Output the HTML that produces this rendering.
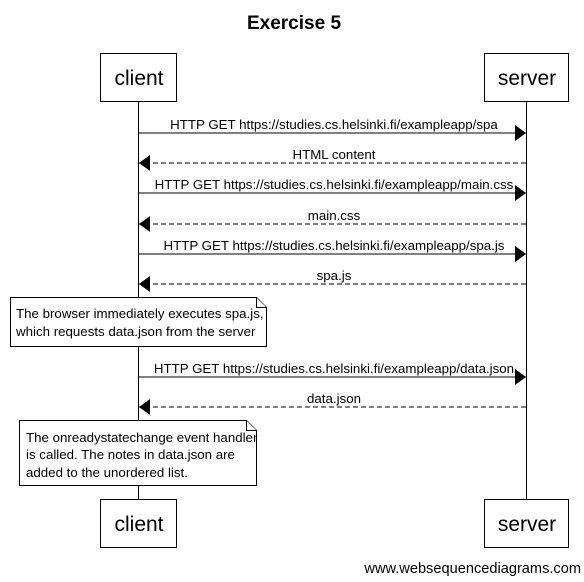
<!DOCTYPE html>
<html><head><style>
body{margin:0;background:#fff;}
svg{display:block;font-family:"Liberation Sans",sans-serif;}
</style></head><body>
<svg width="584" height="582" viewBox="0 0 584 582">
<defs>
<marker id="a" markerWidth="11" markerHeight="16" refX="11" refY="8" orient="auto" markerUnits="userSpaceOnUse"><path d="M0,0 L11,8 L0,16 Z" fill="#000"/></marker>
</defs>
<text x="294" y="29" font-size="19" font-weight="bold" text-anchor="middle">Exercise 5</text>
<g stroke="#000" stroke-width="1" fill="#fff">
<line x1="138.5" y1="102" x2="138.5" y2="500"/>
<line x1="526.5" y1="102" x2="526.5" y2="500"/>
<rect x="100.5" y="53.5" width="76" height="48"/>
<rect x="484.5" y="53.5" width="84" height="48"/>
<rect x="100.5" y="499.5" width="76" height="48"/>
<rect x="484.5" y="499.5" width="84" height="48"/>
</g>
<g font-size="21" text-anchor="middle">
<text x="139" y="85">client</text><text x="527" y="85">server</text>
<text x="139" y="531">client</text><text x="527" y="531">server</text>
</g>
<g stroke="#000" stroke-width="1" fill="none">
<line x1="139" y1="133" x2="526" y2="133" marker-end="url(#a)"/>
<line x1="526" y1="163" x2="139" y2="163" stroke-dasharray="5,3" marker-end="url(#a)"/>
<line x1="139" y1="193" x2="526" y2="193" marker-end="url(#a)"/>
<line x1="526" y1="224" x2="139" y2="224" stroke-dasharray="5,3" marker-end="url(#a)"/>
<line x1="139" y1="254" x2="526" y2="254" marker-end="url(#a)"/>
<line x1="526" y1="284" x2="139" y2="284" stroke-dasharray="5,3" marker-end="url(#a)"/>
<line x1="139" y1="377" x2="526" y2="377" marker-end="url(#a)"/>
<line x1="526" y1="407" x2="139" y2="407" stroke-dasharray="5,3" marker-end="url(#a)"/>
</g>
<g font-size="13.3" text-anchor="middle">
<text x="334" y="129">HTTP GET https://studies.cs.helsinki.fi/exampleapp/spa</text>
<text x="334" y="159">HTML content</text>
<text x="334" y="189">HTTP GET https://studies.cs.helsinki.fi/exampleapp/main.css</text>
<text x="334" y="220">main.css</text>
<text x="334" y="250">HTTP GET https://studies.cs.helsinki.fi/exampleapp/spa.js</text>
<text x="334" y="280">spa.js</text>
<text x="334" y="373">HTTP GET https://studies.cs.helsinki.fi/exampleapp/data.json</text>
<text x="334" y="403">data.json</text>
</g>
<g stroke="#000" stroke-width="1" fill="#fff">
<path d="M10.5,297.5 H256.5 L266.5,307.5 V346.5 H10.5 Z"/>
<path d="M256.5,297.5 V307.5 H266.5"/>
<path d="M19.5,420.5 H246.5 L256.5,430.5 V485.5 H19.5 Z"/>
<path d="M246.5,420.5 V430.5 H256.5"/>
</g>
<g font-size="13.3">
<text x="16" y="318">The browser immediately executes spa.js,</text>
<text x="16" y="336">which requests data.json from the server</text>
<text x="26" y="442">The onreadystatechange event handler</text>
<text x="26" y="459">is called. The notes in data.json are</text>
<text x="26" y="477">added to the unordered list.</text>
</g>
<text x="581" y="573" font-size="14.6" text-anchor="end">www.websequencediagrams.com</text>
</svg>
</body></html>
